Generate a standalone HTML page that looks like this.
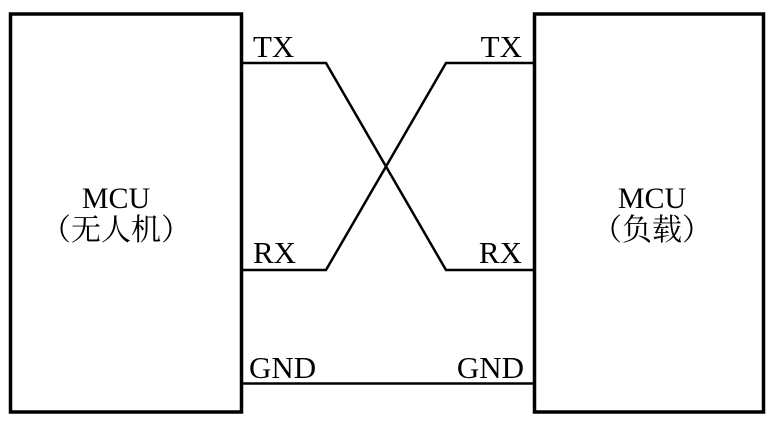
<!DOCTYPE html>
<html><head><meta charset="utf-8"><style>
html,body{margin:0;padding:0;background:#fff;}
svg{display:block;}
text{font-family:"Liberation Serif","Noto Serif CJK SC",serif;fill:#000;}
</style></head><body>
<svg width="775" height="423" viewBox="0 0 775 423" xmlns="http://www.w3.org/2000/svg">
<rect x="10.5" y="14" width="231" height="398" fill="none" stroke="#000" stroke-width="3.5"/>
<rect x="534.5" y="14" width="229" height="398" fill="none" stroke="#000" stroke-width="3.5"/>
<g fill="none" stroke="#000" stroke-width="2.5">
<polyline points="243,63 326,63 446,270 533,270"/>
<polyline points="243,270 326,270 446,63 533,63"/>
<line x1="243" y1="383.5" x2="533" y2="383.5"/>
</g>
<g font-size="31">
<text x="253" y="57">TX</text>
<text x="253" y="263">RX</text>
<text x="249" y="378">GND</text>
<text x="522" y="57" text-anchor="end">TX</text>
<text x="522" y="263" text-anchor="end">RX</text>
<text x="524" y="378" text-anchor="end">GND</text>
<text x="116" y="208" text-anchor="middle" font-size="30">MCU</text>
<text x="116" y="240" text-anchor="middle" font-size="30">（无人机）</text>
<text x="652" y="208" text-anchor="middle" font-size="30">MCU</text>
<text x="652" y="240" text-anchor="middle" font-size="30">（负载）</text>
</g>
</svg>
</body></html>
